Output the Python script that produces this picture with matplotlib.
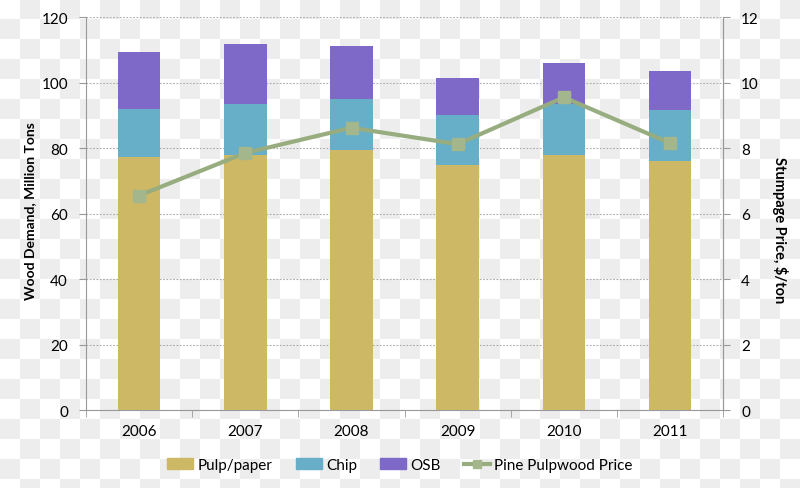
import numpy as np
import matplotlib
matplotlib.use("Agg")
import matplotlib.pyplot as plt
from matplotlib.lines import Line2D
from matplotlib.patches import Patch

years = ["2006", "2007", "2008", "2009", "2010", "2011"]
pulp = [77.2, 77.8, 79.3, 74.9, 77.8, 76.2]
chip = [14.8, 15.7, 15.6, 15.2, 15.7, 15.4]
osb = [17.3, 18.4, 16.3, 11.3, 12.6, 12.0]
price = [6.55, 7.85, 8.62, 8.12, 9.55, 8.15]

c_pulp = "#CDB866"
c_chip = "#67AFC8"
c_osb = "#7E68C8"
c_line = "#98AD7F"

plt.rcParams['font.family'] = ['Lato', 'DejaVu Sans']

fig = plt.figure(figsize=(8, 4.89), dpi=100)
# light checkerboard backdrop
sq = 20
h, w = 489, 800
yy, xx = np.mgrid[0:h, 0:w]
board = (((yy // sq) + (xx // sq)) % 2).astype(float)
img = np.where(board[..., None] > 0, np.array([0.93, 0.93, 0.93]), np.array([1.0, 1.0, 1.0]))
fig.figimage(img, xo=0, yo=0, zorder=-10)

ax = fig.add_axes([0.1075, 0.1595, 0.7965, 0.8035])
ax.patch.set_alpha(0)
x = np.arange(len(years))
bw = 0.4
ax.bar(x, pulp, bw, color=c_pulp, label="Pulp/paper", zorder=3)
ax.bar(x, chip, bw, bottom=pulp, color=c_chip, label="Chip", zorder=3)
bot2 = [a + b for a, b in zip(pulp, chip)]
ax.bar(x, osb, bw, bottom=bot2, color=c_osb, label="OSB", zorder=3)

ax.set_xlim(-0.5, len(years) - 0.5)
ax.set_ylim(0, 120)
ax.set_yticks(range(0, 121, 20))
ax.yaxis.grid(True, color="#aaaaaa", linestyle=(0, (1.5, 1.5)), linewidth=0.8, zorder=0)
ax.set_xticks(x)
ax.set_xticklabels(years)
ax.set_xticks(np.arange(-0.5, len(years), 1.0), minor=True)
ax.tick_params(axis='x', which='major', length=0, labelsize=11, pad=10)
ax.tick_params(axis='x', which='minor', length=5, color="#999999", direction='out')
ax.tick_params(axis='y', length=5, color="#999999", labelsize=11, pad=8)
for s in ["top"]:
    ax.spines[s].set_visible(False)
for s in ["left", "bottom", "right"]:
    ax.spines[s].set_color("#999999")
ax.set_ylabel("Wood Demand, Million Tons", fontsize=10, fontweight='bold')
ax.yaxis.set_label_coords(-0.079, 0.51)

ax2 = ax.twinx()
ax2.plot(x, price, color=c_line, linewidth=3, marker='s', markersize=8,
         markerfacecolor="#A3B68C", markeredgecolor="#A3B68C", zorder=5)
ax2.set_ylim(0, 12)
ax2.set_yticks(range(0, 13, 2))
ax2.tick_params(axis='y', length=5, color="#999999", labelsize=11, pad=8)
for s in ["top", "left", "bottom"]:
    ax2.spines[s].set_visible(False)
ax2.spines["right"].set_color("#999999")
ax2.set_ylabel("Stumpage Price, $/ton", fontsize=10.5, fontweight='bold', rotation=-90)
ax2.yaxis.set_label_coords(1.102, 0.46)

handles = [Patch(color=c_pulp), Patch(color=c_chip), Patch(color=c_osb),
           Line2D([0], [0], color=c_line, linewidth=3, marker='s', markersize=6,
                  markerfacecolor="#A3B68C", markeredgecolor="#A3B68C")]
labels = ["Pulp/paper", "Chip", "OSB", "Pine Pulpwood Price"]
fig.legend(handles, labels, loc='center', bbox_to_anchor=(0.5, 0.047), ncol=4,
           frameon=False, fontsize=11, handlelength=1.7, handleheight=0.7,
           columnspacing=1.5, handletextpad=0.3)

fig.savefig("out.png", dpi=100)
